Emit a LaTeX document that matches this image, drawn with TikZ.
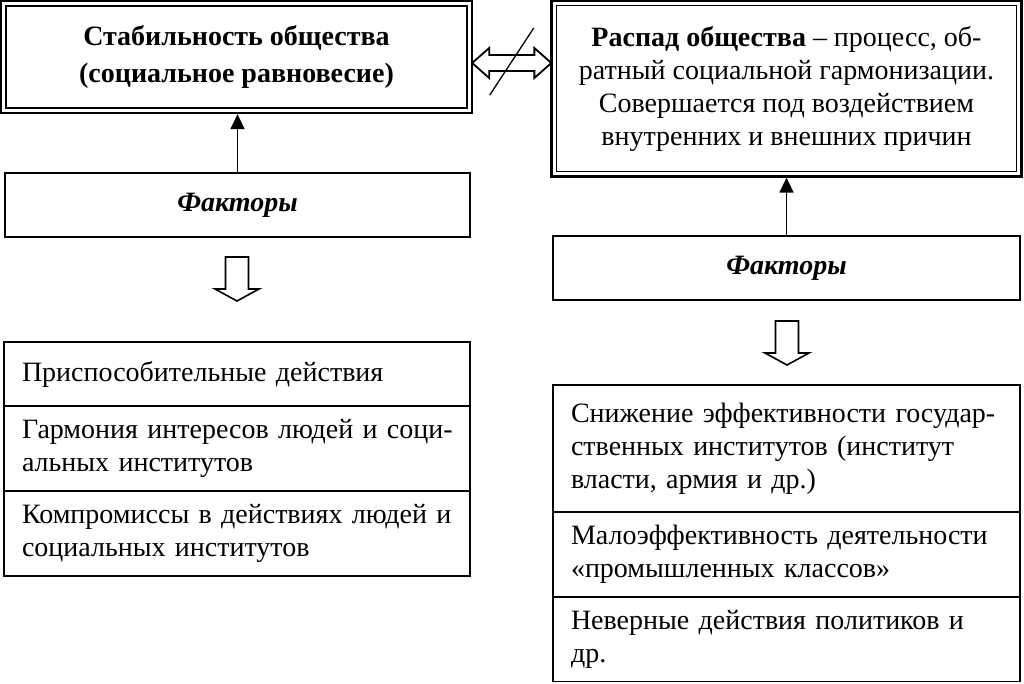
\documentclass[tikz,border=0pt]{standalone}
\usepackage{fontspec}
\setmainfont{Liberation Serif}
\usetikzlibrary{positioning,calc,arrows.meta}

\tikzset{
  hdown/.pic={\draw[hollow] (-11.5,0) -- (11.5,0) -- (11.5,32) -- (22,32) -- (0,44) -- (-22,32) -- (-11.5,32) -- cycle;}
}

\begin{document}
\begin{tikzpicture}[x=1pt,y=-1pt,
    every node/.style={font=\fontsize{28}{33}\selectfont},
    topbox/.style={draw, line width=1.3pt, align=center, inner sep=0pt},
    factbox/.style={draw, line width=1.8pt, minimum height=64pt, inner sep=0pt,
      font=\fontsize{28}{33}\selectfont\bfseries\itshape},
    item/.style={draw, line width=1.3pt, align=left, inner xsep=18pt, inner ysep=0pt,
      outer sep=0pt, anchor=north},
    up/.style={-{Triangle[length=15pt,width=14pt]}, line width=1.5pt},
    hollow/.style={draw, line width=1.6pt, fill=white, line join=miter}]

\useasboundingbox (0,0) rectangle (1024,683);

% top boxes
\node[topbox, minimum width=461pt, minimum height=102pt, font=\fontsize{28}{37}\selectfont\bfseries]
  (stab) at (236.5,57) {Стабильность общества\\(социальное равновесие)};
\node[topbox, minimum width=460pt, minimum height=166pt, font=\fontsize{28}{33}\selectfont]
  (rasp) at (786.5,88.5) {\textbf{Распад общества} – процесс, об-\\ратный социальной гармонизации.\\Совершается под воздействием\\внутренних и внешних причин};
\draw[line width=2.6pt] ([shift={(-4.5,-4.5)}]stab.north west) rectangle ([shift={(4.5,4.5)}]stab.south east);
\draw[line width=2.6pt] ([shift={(-4.5,-4.5)}]rasp.north west) rectangle ([shift={(4.5,4.5)}]rasp.south east);

% crossed double arrow
\coordinate (sE) at ($(stab.east)+(4.5,6)$);
\coordinate (rW) at ($(rasp.west |- sE)+(-4.5,0)$);
\draw[hollow, line width=1.8pt] (sE) -- ++(17,-15) -- ++(0,7) -- ($(rW)+(-17,-8)$) -- ++(0,-7) -- (rW)
  -- ++(-17,15) -- ++(0,-7) -- ($(sE)+(17,8)$) -- ++(0,7) -- cycle;
\draw[line width=1.3pt] ($(sE)!0.5!(rW)+(-22,32)$) -- ($(sE)!0.5!(rW)+(22,-35)$);

% factors
\node[factbox, minimum width=465pt] (fact1) at (237.5,205) {Факторы};
\node[factbox, minimum width=467pt] (fact2) at (786.5,268) {Факторы};
\draw[up] (fact1.north) -- (fact1.north |- {$(stab.south)+(0,5.5)$});
\draw[up] (fact2.north) -- (fact2.north |- {$(rasp.south)+(0,5.5)$});

\pic (arrL) at (237,257) {hdown};
\pic (arrR) at (787,321) {hdown};

% left list
\node[item, text width=430pt, minimum height=64pt] (p1) at (237,342) {Приспособительные действия};
\node[item, text width=430pt, minimum height=85pt, below=0pt of p1] (p2) {\mbox{Гармония интересов людей и соци-}\\альных институтов};
\node[item, text width=430pt, minimum height=85pt, below=0pt of p2] (p3) {\mbox{Компромиссы в действиях людей и}\\социальных институтов};

% right list
\node[item, text width=431pt, minimum height=127pt] (r1) at (786.5,385) {\mbox{Снижение эффективности государ-}\\ственных институтов (институт\\власти, армия и др.)};
\node[item, text width=431pt, minimum height=85pt, below=0pt of r1] (r2) {Малоэффективность деятельности\\«промышленных классов»};
\node[item, text width=431pt, minimum height=84.5pt, below=0pt of r2] (r3) {Неверные действия политиков и\\др.};

\end{tikzpicture}
\end{document}
